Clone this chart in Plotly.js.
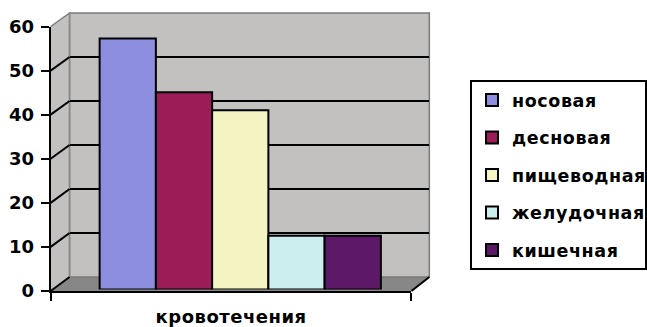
<!DOCTYPE html>
<html>
<head>
<meta charset="utf-8">
<script src="https://cdn.plot.ly/plotly-3.0.1.min.js"></script>
<style>
html,body{margin:0;padding:0;background:#fff;overflow:hidden;width:647px;height:327px;}
#chart{width:647px;height:327px;display:block;}
#chart .legendtext{letter-spacing:0.6px;}
#chart .x3title{letter-spacing:0.5px;}
</style>
</head>
<body>
<div id="chart"></div>
<script>
// ---- data ----
const categories = ['кровотечения'];
const seriesNames = ['носовая', 'десновая', 'пищеводная', 'желудочная', 'кишечная'];
const seriesValues = [56, 44, 40, 12, 12];
const seriesColors = ['#8e8ee0', '#9a1d58', '#f4f4c2', '#cdeeee', '#5e1868'];
const yTicks = [0, 10, 20, 30, 40, 50, 60];
const axisTitle = 'кровотечения';

// ---- geometry (pixels) ----
const W = 647, H = 327;
const front = {l: 51, r: 414, b: 291, t: 26.5};
const back = {l: 70, r: 432, b: 277, t: 13};
const mid = {l: 60.5, r: 423, b: 289.5, t: 20.5};
const fx = p => p / W;
const fy = p => 1 - p / H;
const yMax = yTicks[yTicks.length - 1];
const frontY = v => front.b - (front.b - front.t) * v / yMax;
const backY = v => back.b - (back.b - back.t) * v / yMax;

const font = {family: 'DejaVu Sans', size: 18, color: '#000', weight: 'bold'};
const legendFont = {family: 'DejaVu Sans', size: 17.5, color: '#000', weight: 'bold'};

const traces = seriesNames.map((name, i) => ({
  type: 'bar',
  name: name,
  legendgroup: 'g' + i,
  x: categories,
  y: [seriesValues[i]],
  xaxis: 'x2',
  yaxis: 'y2',
  marker: {color: seriesColors[i], line: {color: '#000', width: 2}},
  hoverinfo: 'skip'
}));

// invisible helper traces so the wall and the front-axis frames are drawn
traces.unshift({
  type: 'scatter', mode: 'markers', x: yTicks.map(() => 0.5), y: yTicks,
  xaxis: 'x', yaxis: 'y', marker: {opacity: 0}, showlegend: false, hoverinfo: 'skip'
});
traces.push({
  type: 'scatter', mode: 'markers', x: yTicks.map(() => 0.5), y: yTicks,
  xaxis: 'x3', yaxis: 'y3', marker: {opacity: 0}, showlegend: false, hoverinfo: 'skip'
});

const shapes = [];
// side wall
shapes.push({
  type: 'path', xref: 'paper', yref: 'paper', layer: 'below',
  path: `M${fx(front.l)},${fy(front.t)} L${fx(back.l)},${fy(back.t)} L${fx(back.l)},${fy(back.b)} L${fx(front.l)},${fy(front.b)} Z`,
  fillcolor: '#c2c1c0', line: {width: 0}
});
// floor
shapes.push({
  type: 'path', xref: 'paper', yref: 'paper', layer: 'below',
  path: `M${fx(front.l)},${fy(front.b)} L${fx(back.l)},${fy(back.b)} L${fx(back.r)},${fy(back.b)} L${fx(front.r)},${fy(front.b)} Z`,
  fillcolor: '#878787', line: {width: 0}
});
// back wall
shapes.push({
  type: 'rect', xref: 'x domain', yref: 'y domain', layer: 'below',
  x0: 0, x1: 1, y0: 0, y1: 1,
  fillcolor: '#c2c1c0', line: {color: '#7a7a7a', width: 1.5}
});
// side-wall vertical edge
shapes.push({
  type: 'line', xref: 'paper', yref: 'paper', layer: 'below',
  x0: fx(back.l), x1: fx(back.l), y0: fy(back.b), y1: fy(back.t),
  line: {color: '#8a8a8a', width: 1.5}
});
// diagonal gridlines on side wall
yTicks.forEach(v => {
  const top = v === yMax;
  shapes.push({
    type: 'line', xref: 'paper', yref: 'paper', layer: 'below',
    x0: fx(front.l), y0: fy(frontY(v)), x1: fx(back.l), y1: fy(backY(v)),
    line: {color: top ? '#7a7a7a' : '#000', width: top ? 1.5 : 2}
  });
});
// floor right edge
shapes.push({
  type: 'line', xref: 'paper', yref: 'paper', layer: 'above',
  x0: fx(front.r), y0: fy(front.b), x1: fx(back.r), y1: fy(back.b),
  line: {color: '#000', width: 2}
});

const layout = {
  width: W, height: H,
  margin: {l: 0, r: 0, t: 0, b: 0},
  paper_bgcolor: '#fff', plot_bgcolor: 'rgba(0,0,0,0)',
  font: font,
  barmode: 'group', bargap: 1 - (383 - 100) / (mid.r - mid.l), bargroupgap: 0,
  showlegend: true,
  legend: {
    x: fx(473), y: fy(80), xanchor: 'left', yanchor: 'top',
    bordercolor: '#000', borderwidth: 2, bgcolor: '#fff',
    font: legendFont, traceorder: 'grouped', tracegroupgap: 11.8
  },
  // back wall
  xaxis: {domain: [fx(back.l), fx(back.r)], anchor: 'y', range: [0, 1],
          showgrid: false, zeroline: false, showline: false, showticklabels: false, ticks: ''},
  yaxis: {domain: [fy(back.b), fy(back.t)], anchor: 'x', range: [0, yMax],
          tickvals: yTicks.slice(1, -1), showgrid: true, gridcolor: '#000', gridwidth: 2,
          zeroline: false, showline: false, showticklabels: false, ticks: ''},
  // bars
  xaxis2: {domain: [fx(mid.l), fx(mid.r)], anchor: 'y2', type: 'category', range: [-0.5, 0.5], visible: false},
  yaxis2: {domain: [fy(mid.b), fy(mid.t)], anchor: 'x2', range: [0, yMax], visible: false},
  // front axes
  xaxis3: {domain: [fx(front.l), fx(front.r)], anchor: 'y3', range: [0, 1],
           showline: true, linecolor: '#000', linewidth: 2,
           ticks: 'outside', tickvals: [0, 1], ticklen: 8, tickwidth: 2, tickcolor: '#000',
           showticklabels: false, showgrid: false, zeroline: false,
           title: {text: axisTitle, font: font, standoff: 11}},
  yaxis3: {domain: [fy(front.b), fy(front.t)], anchor: 'x3', range: [0, yMax],
           showline: true, linecolor: '#000', linewidth: 2,
           ticks: 'outside', tickvals: yTicks, ticklen: 8, tickwidth: 2, tickcolor: '#000',
           tickfont: font, ticklabelstandoff: 3, showgrid: false, zeroline: false},
  shapes: shapes
};

Plotly.newPlot('chart', traces, layout, {staticPlot: true, displayModeBar: false});
</script>
</body>
</html>
